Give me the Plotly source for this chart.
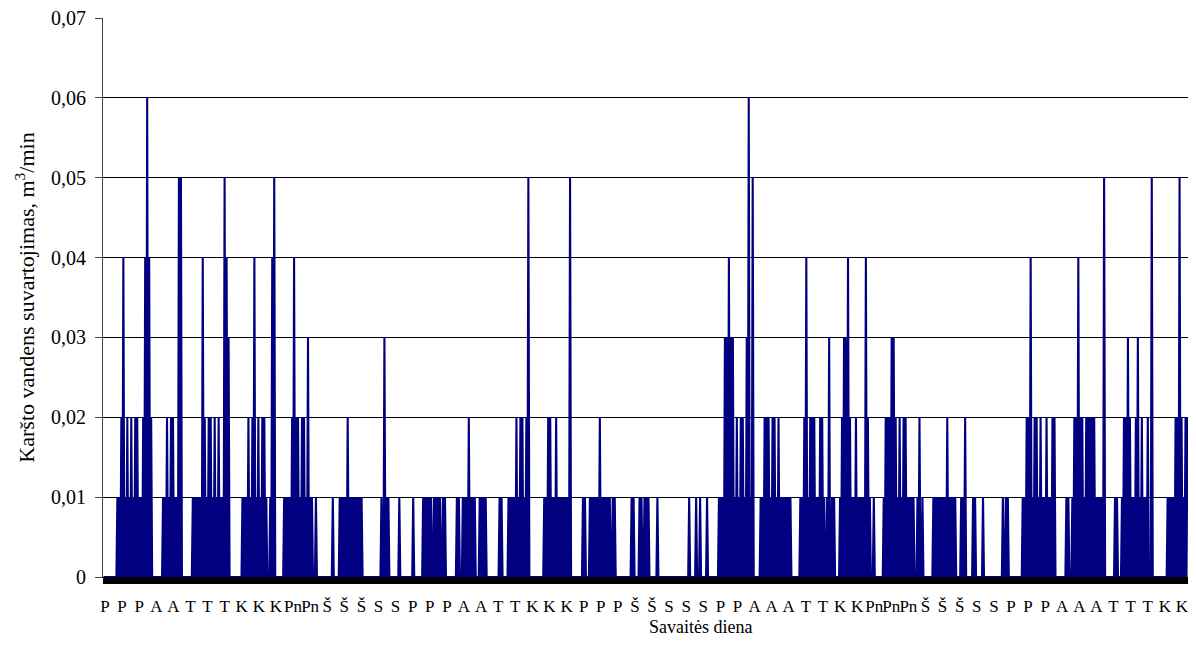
import plotly.graph_objects as go

# Hot-water consumption, one digit per sample, digit = value in 0.01 m3/min
flow_rows = [
    "00000000000000" "101020401020102010202010102040604020",
    "0000000000" "10102010202010105050" "0000000000" "1010" "101010",
    "4020102020102010201010504030" "000000000000" "1010102010",
    "2040102010202010" "00" "104050" "00000000" "101010102040202010",
    "202010301010" "001" "0000000000000000" "1" "000000" "101010102010",
    "101010101" "0" "1" "0000000000000000000" "10030101" "0000000000" "10",
    "000000000000" "1" "000000000" "1010101010" "0" "1010101" "00" "101" "00000",
    "000000" "101" "000" "1010102010101" "0000" "1010101" "0000000000000" "1",
    "01" "000000" "1010101020102020102050" "00000000000000" "101020",
    "2010102010101010101" "05" "000000000000" "101" "0000" "1010101010",
    "201010101010" "0101" "0000000000000000" "101" "00000" "1010010101",
    "00000000" "1" "0000000000000000000000000000000" "1" "000000" "1" "00",
    "01" "000000" "1" "00000000000" "101010303040303010201020201030",
    "601" "05" "0000000" "1010202020102020102010101010101" "0000000",
    "0010" "102040102020201010202010" "010300101" "00000" "10203030",
    "40201010201010101040201" "000" "1" "000000000" "10202020303020",
    "102010202010101010" "00102001" "0000000000" "10101010101010",
    "20101" "0101" "00000" "10102" "0000000" "101" "0000000" "1" "0000000000000",
    "000000" "100101" "0000000000000" "0" "101020204010202010201010",
    "201010202" "00000000000" "101" "000" "102020402020102020202020",
    "101010105" "0000000000" "101" "0000" "102020302010102030102010",
    "1020005" "00000000000000" "0" "101010102020502010202",
]

day_labels = [
    "P", "P", "P", "A", "A", "T", "T", "T", "K", "K", "K", "Pn", "Pn",
    "Š", "Š", "Š", "S", "S",
    "P", "P", "P", "A", "A", "T", "T", "K", "K", "K", "P", "P", "P",
    "Š", "Š", "S", "S", "S",
    "P", "P", "A", "A", "A", "T", "T", "K", "K", "Pn", "Pn", "Pn",
    "Š", "Š", "Š", "S", "S",
    "P", "P", "P", "A", "A", "A", "T", "T", "T", "K", "K",
]

y_tick_values = [0, 0.01, 0.02, 0.03, 0.04, 0.05, 0.06, 0.07]
y_tick_text = ["0", "0,01", "0,02", "0,03", "0,04", "0,05", "0,06", "0,07"]

digits = "".join(flow_rows)
consumption = [int(ch) / 100 for ch in digits]
sample_index = list(range(len(consumption)))

label_first = 1.5
label_step = 17.22
tick_positions = [label_first + i * label_step for i in range(len(day_labels))]

fig = go.Figure(
    go.Scatter(
        x=sample_index,
        y=consumption,
        mode="lines",
        line=dict(color="#000080", width=2.1, simplify=False),
        hoverinfo="skip",
    )
)

# the page body adds an 8 px margin on every side; keep the figure inside it
fig.update_layout(
    width=1180,
    height=632,
    margin=dict(l=95, r=0, t=10, b=63),
    paper_bgcolor="white",
    plot_bgcolor="white",
    showlegend=False,
    font=dict(family="Liberation Serif, Times New Roman, serif", size=17, color="black"),
    annotations=[
        dict(
            text="Savaitės diena",
            xref="paper", yref="paper",
            x=0.5505, y=0, yshift=-50,
            xanchor="center", yanchor="middle",
            showarrow=False,
            font=dict(size=18),
        )
    ],
)

fig.update_xaxes(
    range=[-0.5, len(consumption) - 0.5],
    automargin=False,
    tickmode="array",
    tickvals=tick_positions,
    ticktext=day_labels,
    tickangle=0,
    ticklabeloverflow="allow",
    ticks="outside",
    ticklen=6,
    tickcolor="black",
    showline=True,
    linecolor="black",
    linewidth=1,
    showgrid=False,
    zeroline=False,
    minor=dict(tickmode="linear", tick0=0, dtick=1, ticks="outside",
               ticklen=6, tickcolor="black", tickwidth=1, showgrid=False),
    layer="below traces",
    ticklabelstandoff=8,
)

fig.update_yaxes(
    range=[0, 0.07],
    automargin=False,
    tickmode="array",
    tickvals=y_tick_values,
    ticktext=y_tick_text,
    tickfont=dict(size=20),
    ticklabeloverflow="allow",
    ticks="outside",
    ticklen=7,
    tickcolor="#444",
    showline=True,
    linecolor="#444",
    linewidth=1,
    showgrid=True,
    gridcolor="black",
    gridwidth=1,
    zeroline=False,
    layer="below traces",
    ticklabelstandoff=5,
    title=dict(text="Karšto vandens suvartojimas, m<sup>3</sup>/min",
               font=dict(size=22), standoff=10),
)

fig.write_html("out.html")
